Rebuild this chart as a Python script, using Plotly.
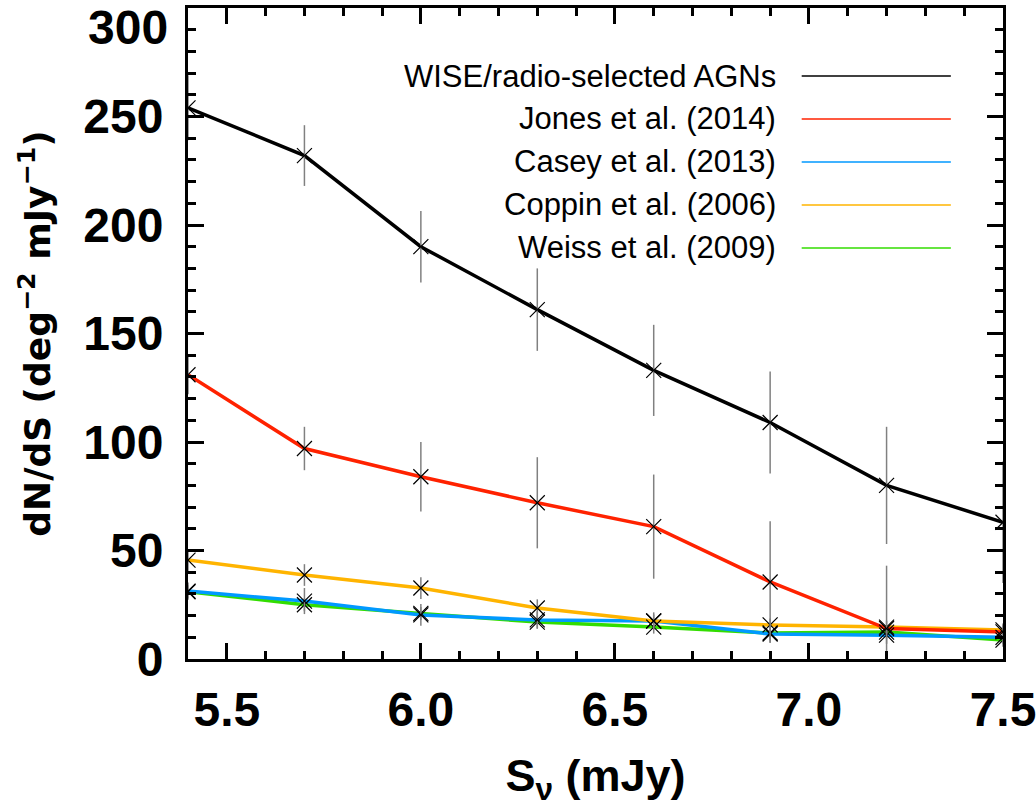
import plotly.graph_objects as go

flux = [5.4, 5.7, 6.0, 6.3, 6.6, 6.9, 7.2, 7.5]

wise = [254, 232, 190, 161, 133, 109, 80, 63]
wise_err = [15, 14, 16.5, 19, 21, 23.5, 27, 28]
jones = [131, 97, 84, 72, 61, 35.5, 14, 12.5]
jones_err = [9, 10, 16, 21, 24, 28, 29, 3]
casey = [31.3, 26.7, 20.3, 18, 17.5, 11.5, 11, 10]
casey_err = [4, 6, 5, 4, 4, 4, 4, 3]
coppin = [45.6, 38.7, 32.7, 23.5, 17.5, 15.7, 14.7, 13.4]
coppin_err = [5, 5, 5, 4, 3, 3, 3, 3]
weiss = [31, 25, 21, 17, 14.7, 12, 12.4, 8.7]
weiss_err = [3, 3, 3, 3, 3, 3, 3, 3]

y_ticks = [0, 50, 100, 150, 200, 250]
y_top_label = 300
x_ticks = [5.5, 6.0, 6.5, 7.0, 7.5]
x_ticktext = ["5.5", "6.0", "6.5", "7.0", "7.5"]

series = [
    ("WISE/radio-selected AGNs", wise, wise_err, "#000000"),
    ("Jones et al. (2014)", jones, jones_err, "#ff2200"),
    ("Casey et al. (2013)", casey, casey_err, "#0099ff"),
    ("Coppin et al. (2006)", coppin, coppin_err, "#ffb400"),
    ("Weiss et al. (2009)", weiss, weiss_err, "#33dd00"),
]
draw_order = [0, 4, 2, 3, 1]

fig = go.Figure()

for i in draw_order:
    name, y, e, c = series[i]
    fig.add_trace(go.Scatter(x=flux, y=y, mode="lines", line=dict(color=c, width=3.5),
                             showlegend=False))
for i in draw_order:
    name, y, e, c = series[i]
    fig.add_trace(go.Scatter(x=flux, y=y, mode="markers",
                             marker=dict(symbol="x-thin-open", size=15, color="black",
                                         line=dict(color="black", width=1.2)),
                             error_y=dict(type="data", array=e, color="#808080", thickness=1.5, width=0),
                             showlegend=False))

# legend drawn manually (text right-aligned, long sample lines)
leg_y0 = 0.8955
leg_dy = 0.066
for k, (name, y, e, c) in enumerate(series):
    yy = leg_y0 - k * leg_dy
    fig.add_annotation(x=0.724, y=yy, xref="paper", yref="paper", text=name,
                       showarrow=False, xanchor="right", yanchor="middle",
                       font=dict(family="Liberation Sans", size=31, color="black"))
    fig.add_shape(type="line", xref="paper", yref="paper", x0=0.753, x1=0.936, y0=yy, y1=yy,
                  line=dict(color=c, width=1.5))

tickfont = dict(family="Liberation Sans", size=48, color="black", weight="bold")

# top y label (drawn just below its tick, as in the original)
fig.add_annotation(x=0, xref="paper", y=y_top_label, yref="y", text=str(y_top_label),
                   showarrow=False, xanchor="right", yanchor="top", xshift=-19, yshift=8,
                   borderpad=0, font=tickfont)

axis_common = dict(
    showgrid=False, zeroline=False, showline=True, linecolor="black", linewidth=3,
    mirror="allticks", ticks="inside", ticklen=16, tickwidth=3, tickcolor="black",
    tickfont=tickfont, ticklabeloverflow="allow", automargin=False,
)

fig.update_xaxes(range=[5.4, 7.5], tickvals=x_ticks, ticktext=x_ticktext,
                 minor=dict(dtick=0.1, tick0=5.4, ticks="inside", ticklen=8, tickwidth=2.5, tickcolor="black"),
                 title=dict(text="S<sub>ν</sub> (mJy)", font=dict(family="Liberation Sans", size=45, color="black", weight="bold"), standoff=28),
                 ticklabelstandoff=6,
                 **axis_common)
fig.update_yaxes(range=[0, 300], tickvals=y_ticks,
                 minor=dict(dtick=10, ticks="inside", ticklen=8, tickwidth=2.5, tickcolor="black"),
                 title=dict(text="dN/dS (deg<sup>−2</sup> mJy<sup>−1</sup>)", font=dict(family="DejaVu Sans", size=36, color="black", weight="bold"), standoff=22),
                 ticklabelstandoff=12,
                 **axis_common)

fig.update_layout(width=1036, height=807, paper_bgcolor="white", plot_bgcolor="white",
                  margin=dict(l=188, r=33, t=8, b=148), showlegend=False)

fig.write_html("out.html")
